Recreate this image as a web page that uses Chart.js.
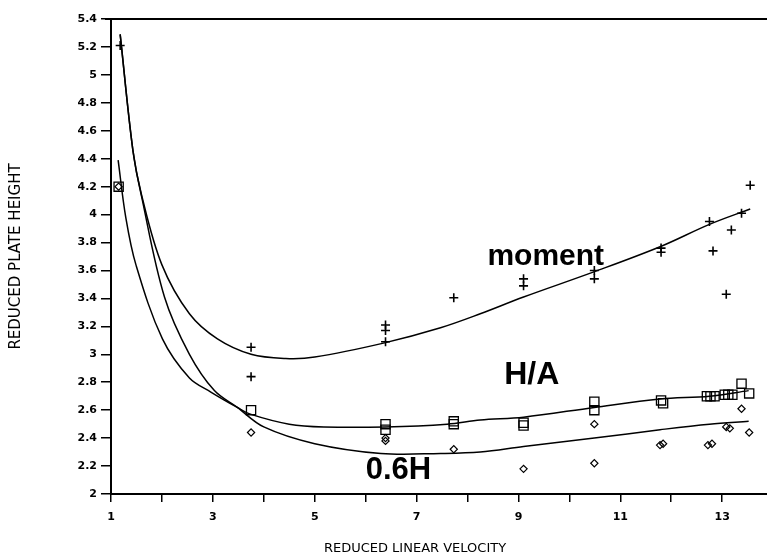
<!DOCTYPE html>
<html>
<head>
<meta charset="utf-8">
<script src="https://cdn.jsdelivr.net/npm/chart.js@4.4.1/dist/chart.umd.min.js"></script>
<style>
  html, body { margin: 0; padding: 0; background: #ffffff; }
  #wrap { width: 767px; height: 556px; position: relative; }
</style>
</head>
<body>
<div id="wrap"><canvas id="c" width="767" height="556"></canvas></div>
<script>
// ---------- data ----------
const xTickValues = [1, 2, 3, 4, 5, 6, 7, 8, 9, 10, 11, 12, 13];
const xTickLabels = ['1', '', '3', '', '5', '', '7', '', '9', '', '11', '', '13'];
const yTickValues = [2, 2.2, 2.4, 2.6, 2.8, 3, 3.2, 3.4, 3.6, 3.8, 4, 4.2, 4.4, 4.6, 4.8, 5, 5.2, 5.4];
const yTickLabels = ['2', '2.2', '2.4', '2.6', '2.8', '3', '3.2', '3.4', '3.6', '3.8', '4', '4.2', '4.4', '4.6', '4.8', '5', '5.2', '5.4'];

const xAxisTitle = 'REDUCED LINEAR VELOCITY';
const yAxisTitle = 'REDUCED PLATE HEIGHT';
const seriesNames = ['moment', 'H/A', '0.6H'];

// measured points: moment (+)
const momentX = [1.18, 3.75, 3.75, 6.39, 6.39, 6.39, 7.73, 9.1, 9.1, 10.49, 10.49, 11.8, 11.8, 12.75, 12.82, 13.18, 13.08, 13.38, 13.55];
const momentY = [5.21, 3.05, 2.84, 3.21, 3.17, 3.09, 3.405, 3.54, 3.49, 3.60, 3.54, 3.76, 3.73, 3.95, 3.74, 3.89, 3.43, 4.01, 4.21];

// measured points: H/A (squares)
const haX = [1.15, 3.75, 6.39, 6.39, 7.73, 7.73, 9.1, 9.1, 10.49, 10.49, 11.8, 11.84, 12.7, 12.77, 12.85, 13.05, 13.12, 13.2, 13.38, 13.53];
const haY = [4.20, 2.60, 2.50, 2.46, 2.52, 2.50, 2.51, 2.49, 2.66, 2.60, 2.67, 2.65, 2.70, 2.70, 2.70, 2.71, 2.71, 2.71, 2.79, 2.72];

// measured points: 0.6H (diamonds)
const h06X = [1.15, 3.75, 6.39, 6.39, 7.73, 9.1, 10.49, 10.49, 11.78, 11.84, 12.72, 12.8, 13.08, 13.15, 13.38, 13.53];
const h06Y = [4.20, 2.44, 2.40, 2.38, 2.32, 2.18, 2.50, 2.22, 2.35, 2.36, 2.35, 2.36, 2.48, 2.47, 2.61, 2.44];

// fitted curves
const momentCurveX = [1.18, 1.43, 1.6, 2.0, 2.54, 3.09, 3.75, 4.43, 5.0, 6.35, 7.47, 8.25, 9.1, 10.48, 11.78, 12.75, 13.55];
const momentCurveY = [5.29, 4.46, 4.14, 3.64, 3.29, 3.11, 3.0, 2.97, 2.98, 3.08, 3.19, 3.29, 3.41, 3.59, 3.77, 3.93, 4.04];

const haCurveX = [1.14, 1.29, 1.49, 2.01, 2.54, 2.96, 3.48, 3.75, 4.5, 5.18, 6.39, 7.6, 8.25, 9.1, 10.49, 11.78, 12.75, 13.52];
const haCurveY = [4.39, 3.98, 3.64, 3.11, 2.83, 2.73, 2.62, 2.57, 2.50, 2.48, 2.48, 2.50, 2.53, 2.55, 2.62, 2.68, 2.70, 2.74];

const h06CurveX = [1.18, 1.43, 1.6, 2.05, 2.54, 3.03, 3.48, 4.0, 5.0, 6.3, 7.47, 8.25, 9.1, 10.49, 11.78, 12.75, 13.52];
const h06CurveY = [5.29, 4.46, 4.13, 3.41, 3.0, 2.74, 2.62, 2.48, 2.36, 2.29, 2.29, 2.30, 2.34, 2.40, 2.46, 2.50, 2.52];

// label anchor positions (data coordinates, left / baseline)
const labelX = [8.39, 8.72, 6.0];
const labelY = [3.637, 2.79, 2.104];

// ---------- build ----------
function pts(xs, ys) { return xs.map((x, i) => ({ x: x, y: ys[i] })); }

const INK = '#000000';
const TICK_FONT = { family: 'DejaVu Sans', size: 11, weight: 'bold' };

const pointSets = [
  { label: seriesNames[0], data: pts(momentX, momentY), pointStyle: 'cross', pointRadius: 4.5, pointBorderWidth: 1.6 },
  { label: seriesNames[1], data: pts(haX, haY), pointStyle: 'rect', pointRadius: 6.5, pointBorderWidth: 1.3 },
  { label: seriesNames[2], data: pts(h06X, h06Y), pointStyle: 'rectRot', pointRadius: 3.6, pointBorderWidth: 1.2 }
].map(d => Object.assign(d, {
  showLine: false, borderColor: INK, backgroundColor: 'rgba(0,0,0,0)',
  pointBorderColor: INK, pointBackgroundColor: 'rgba(0,0,0,0)', pointHoverRadius: d.pointRadius
}));

const curveSets = [
  { label: seriesNames[0] + ' fit', data: pts(momentCurveX, momentCurveY) },
  { label: seriesNames[1] + ' fit', data: pts(haCurveX, haCurveY) },
  { label: seriesNames[2] + ' fit', data: pts(h06CurveX, h06CurveY) }
].map(d => Object.assign(d, {
  showLine: true, borderColor: INK, borderWidth: 1.5, pointRadius: 0, pointHoverRadius: 0,
  tension: 0.35, fill: false, backgroundColor: INK
}));

const annotate = {
  id: 'annotate',
  afterDraw(chart) {
    const { ctx, chartArea, scales } = chart;
    ctx.save();
    // top frame line
    ctx.strokeStyle = INK;
    ctx.lineWidth = 2;
    ctx.beginPath();
    ctx.moveTo(chartArea.left - 6, chartArea.top);
    ctx.lineTo(chartArea.right, chartArea.top);
    ctx.stroke();
    // series labels
    ctx.fillStyle = INK;
    ctx.textAlign = 'left';
    ctx.textBaseline = 'alphabetic';
    const labelSizes = [30, 32, 31];
    seriesNames.forEach((name, i) => {
      ctx.font = 'bold ' + labelSizes[i] + 'px "Liberation Sans", Arial, sans-serif';
      ctx.fillText(name, scales.x.getPixelForValue(labelX[i]), scales.y.getPixelForValue(labelY[i]));
    });
    // axis titles
    ctx.textAlign = 'center';
    ctx.textBaseline = 'middle';
    ctx.font = '13px "DejaVu Sans", sans-serif';
    ctx.fillText(xAxisTitle, 415, 549);
    ctx.font = '15px "DejaVu Sans", sans-serif';
    ctx.translate(16, (chartArea.top + chartArea.bottom) / 2);
    ctx.rotate(-Math.PI / 2);
    ctx.fillText(yAxisTitle, 0, 0);
    ctx.restore();
  }
};

new Chart(document.getElementById('c'), {
  type: 'scatter',
  data: { datasets: pointSets.concat(curveSets) },
  options: {
    responsive: false,
    animation: false,
    devicePixelRatio: 1,
    layout: { autoPadding: false, padding: { top: 19, right: 0, left: 0, bottom: 0 } },
    plugins: { legend: { display: false }, tooltip: { enabled: false } },
    scales: {
      x: {
        type: 'linear', min: 1, max: 13.88,
        afterFit(scale) { scale.height = 62; scale.paddingRight = 0; scale.paddingLeft = 0; },
        afterBuildTicks(scale) { scale.ticks = xTickValues.map(v => ({ value: v })); },
        ticks: { autoSkip: false, maxRotation: 0, color: INK, font: TICK_FONT, padding: 9,
                 callback: (v, i) => xTickLabels[i] },
        grid: { display: true, drawOnChartArea: false, drawTicks: true, tickLength: 8, color: INK, lineWidth: 1.5 },
        border: { display: true, color: INK, width: 2 }
      },
      y: {
        type: 'linear', min: 2, max: 5.4,
        afterFit(scale) { scale.width = 111; scale.paddingTop = 0; scale.paddingBottom = 0; },
        afterBuildTicks(scale) { scale.ticks = yTickValues.map(v => ({ value: v })); },
        ticks: { autoSkip: false, color: INK, font: TICK_FONT, padding: 4,
                 callback: (v, i) => yTickLabels[i] },
        grid: { display: true, drawOnChartArea: false, drawTicks: true, tickLength: 10, color: INK, lineWidth: 1.5 },
        border: { display: true, color: INK, width: 2 }
      }
    }
  },
  plugins: [annotate]
});
</script>
</body>
</html>
